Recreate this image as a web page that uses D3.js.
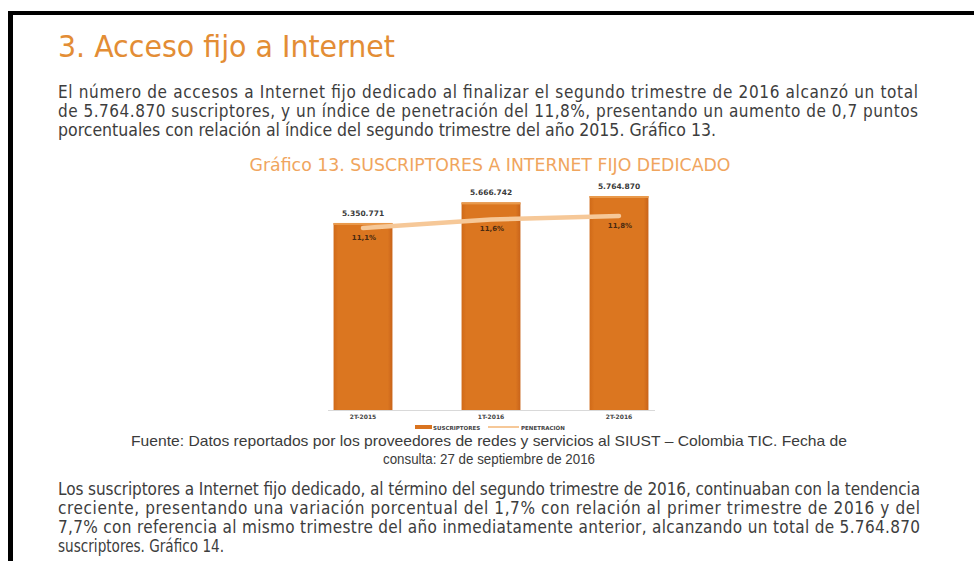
<!DOCTYPE html>
<html>
<head>
<meta charset="utf-8">
<script src="https://cdn.jsdelivr.net/npm/d3@7"></script>
<style>
  body { margin: 0; background: #fff; }
  svg { display: block; }
</style>
</head>
<body>
<div id="chart_location"></div>
<script>
// datos del grafico
var categorias = ["2T-2015", "1T-2016", "2T-2016"];
var suscriptores = [5350771, 5666742, 5764870];
var penetracion = [11.1, 11.6, 11.8];
var leyenda = ["SUSCRIPTORES", "PENETRACIÓN"];

var parrafo1 = [
    "El número de accesos a Internet fijo dedicado al finalizar el segundo trimestre de 2016 alcanzó un total",
    "de 5.764.870 suscriptores, y un índice de penetración del 11,8%, presentando un aumento de 0,7 puntos",
    "porcentuales con relación al índice del segundo trimestre del año 2015. Gráfico 13."
];
var fuente = [
    "Fuente: Datos reportados por los proveedores de redes y servicios al SIUST – Colombia TIC. Fecha de",
    "consulta: 27 de septiembre de 2016"
];
var parrafo2 = [
    "Los suscriptores a Internet fijo dedicado, al término del segundo trimestre de 2016, continuaban con la tendencia",
    "creciente, presentando una variación porcentual del 1,7% con relación al primer trimestre de 2016 y del",
    "7,7% con referencia al mismo trimestre del año inmediatamente anterior, alcanzando un total de 5.764.870",
    "suscriptores. Gráfico 14."
];

var locale = d3.formatLocale({ decimal: ",", thousands: ".", grouping: [3], currency: ["$", ""] });
var fmtNum = locale.format(",d");
var fmtPct = function(v) { return locale.format(".1f")(v) + "%"; };

var svg = d3.select("#chart_location").append("svg")
    .attr("width", 974).attr("height", 561);

svg.append("rect").attr("width", 974).attr("height", 561).attr("fill", "#fff");

// marco negro
svg.append("rect").attr("x", 8).attr("y", 11).attr("width", 966).attr("height", 4).attr("fill", "#000");
svg.append("rect").attr("x", 8).attr("y", 11).attr("width", 5).attr("height", 550).attr("fill", "#000");

var fontTexto = "'DejaVu Sans Condensed', 'Roboto', sans-serif";

svg.append("text")
    .attr("x", 58).attr("y", 57)
    .attr("font-family", fontTexto)
    .attr("font-size", 31)
    .attr("fill", "#e38d35")
    .attr("textLength", 337).attr("lengthAdjust", "spacingAndGlyphs")
    .text("3. Acceso fijo a Internet");

function lineas(textos, y0, dy, anchos) {
    svg.append("g").selectAll("text")
        .data(textos)
        .enter().append("text")
        .attr("x", 58)
        .attr("y", function(d, i) { return y0 + i * dy; })
        .attr("font-family", fontTexto)
        .attr("font-size", 17)
        .attr("fill", "#3d3d3d")
        .attr("textLength", function(d, i) { return anchos[i]; })
        .attr("lengthAdjust", function(d, i) { return anchos[i] > 700 ? "spacing" : "spacingAndGlyphs"; })
        .text(function(d) { return d; });
}

lineas(parrafo1, 98, 19, [860, 860, 658]);
lineas(parrafo2, 495, 19, [862, 862, 862, 166]);

svg.append("g").selectAll("text")
    .data(fuente)
    .enter().append("text")
    .attr("x", 489)
    .attr("y", function(d, i) { return 446 + i * 17.5; })
    .attr("text-anchor", "middle")
    .attr("font-family", "'Liberation Sans', Arial, sans-serif")
    .attr("font-size", 14.5)
    .attr("fill", "#3b3b3b")
    .attr("textLength", function(d, i) { return i == 0 ? 716 : 212; })
    .attr("lengthAdjust", "spacingAndGlyphs")
    .text(function(d) { return d; });

svg.append("text")
    .attr("x", 490).attr("y", 171)
    .attr("text-anchor", "middle")
    .attr("font-family", fontTexto)
    .attr("font-size", 18)
    .attr("fill", "#f0a55e")
    .attr("textLength", 481).attr("lengthAdjust", "spacingAndGlyphs")
    .text("Gráfico 13. SUSCRIPTORES A INTERNET FIJO DEDICADO");

// grafico
var data = categorias.map(function(c, i) {
    return { cat: c, subs: suscriptores[i], pen: penetracion[i] };
});

var x = d3.scaleBand()
    .domain(categorias)
    .range([299, 683])
    .paddingInner(0.54)
    .paddingOuter(0.27);

var y = d3.scaleLinear()
    .domain([2480000, d3.max(suscriptores)])
    .range([410, 196]);

var y2 = d3.scaleLinear()
    .domain([d3.min(penetracion), d3.max(penetracion)])
    .range([228, 216]);

var defs = svg.append("defs");
var grad = defs.append("linearGradient").attr("id", "barra").attr("x1", 0).attr("x2", 1).attr("y1", 0).attr("y2", 0);
grad.append("stop").attr("offset", "0%").attr("stop-color", "#d06a18");
grad.append("stop").attr("offset", "8%").attr("stop-color", "#db7620");
grad.append("stop").attr("offset", "92%").attr("stop-color", "#db7620");
grad.append("stop").attr("offset", "100%").attr("stop-color", "#c8631a");

var g = svg.append("g").attr("class", "data");

// linea base
g.append("line")
    .attr("x1", 328).attr("x2", 655)
    .attr("y1", y.range()[0] + 0.5).attr("y2", y.range()[0] + 0.5)
    .attr("stroke", "#d9d9d9").attr("stroke-width", 1);

g.selectAll("rect.bar")
    .data(data)
    .enter().append("rect")
    .attr("class", "bar")
    .attr("x", function(d) { return x(d.cat); })
    .attr("y", function(d) { return y(d.subs); })
    .attr("width", x.bandwidth())
    .attr("height", function(d) { return y.range()[0] - y(d.subs); })
    .attr("fill", "url(#barra)");

g.selectAll("rect.top")
    .data(data)
    .enter().append("rect")
    .attr("class", "top")
    .attr("x", function(d) { return x(d.cat); })
    .attr("y", function(d) { return y(d.subs); })
    .attr("width", x.bandwidth())
    .attr("height", 2)
    .attr("fill", "#e99a4c");

var linea = d3.line()
    .x(function(d) { return x(d.cat) + x.bandwidth() / 2; })
    .y(function(d) { return y2(d.pen); });

g.append("path")
    .datum(data)
    .attr("d", linea)
    .attr("fill", "none")
    .attr("stroke", "#f6c898")
    .attr("stroke-width", 4.5)
    .attr("stroke-linecap", "round");

var fontChart = "'DejaVu Sans', sans-serif";

g.selectAll("text.valor")
    .data(data)
    .enter().append("text")
    .attr("class", "valor")
    .attr("x", function(d) { return x(d.cat) + x.bandwidth() / 2; })
    .attr("y", function(d) { return y(d.subs) - 7; })
    .attr("text-anchor", "middle")
    .attr("font-family", fontChart)
    .attr("font-weight", "bold")
    .attr("font-size", 7.5)
    .attr("fill", "#3a3a3a")
    .text(function(d) { return fmtNum(d.subs); });

g.selectAll("text.pen")
    .data(data)
    .enter().append("text")
    .attr("class", "pen")
    .attr("x", function(d) { return x(d.cat) + x.bandwidth() / 2 + 1; })
    .attr("y", function(d) { return y2(d.pen) + 12; })
    .attr("text-anchor", "middle")
    .attr("font-family", fontChart)
    .attr("font-weight", "bold")
    .attr("font-size", 7)
    .attr("fill", "#4a2a10")
    .text(function(d) { return fmtPct(d.pen); });

g.selectAll("text.cat")
    .data(data)
    .enter().append("text")
    .attr("class", "cat")
    .attr("x", function(d) { return x(d.cat) + x.bandwidth() / 2; })
    .attr("y", 419)
    .attr("text-anchor", "middle")
    .attr("font-family", fontChart)
    .attr("font-weight", "bold")
    .attr("font-size", 6)
    .attr("fill", "#444")
    .text(function(d) { return d.cat; });

// leyenda
var ley = g.append("g").attr("transform", "translate(415,428)");
ley.append("rect").attr("x", 0).attr("y", -3).attr("width", 17).attr("height", 4).attr("fill", "#d9731f");
ley.append("text").attr("x", 18).attr("y", 1.5)
    .attr("font-family", fontChart).attr("font-weight", "bold").attr("font-size", 5.5)
    .attr("fill", "#444").text(leyenda[0]);
ley.append("line").attr("x1", 73).attr("x2", 104).attr("y1", -1).attr("y2", -1)
    .attr("stroke", "#f6c898").attr("stroke-width", 2);
ley.append("text").attr("x", 106).attr("y", 1.5)
    .attr("font-family", fontChart).attr("font-weight", "bold").attr("font-size", 5.5)
    .attr("fill", "#444").text(leyenda[1]);
</script>
</body>
</html>
